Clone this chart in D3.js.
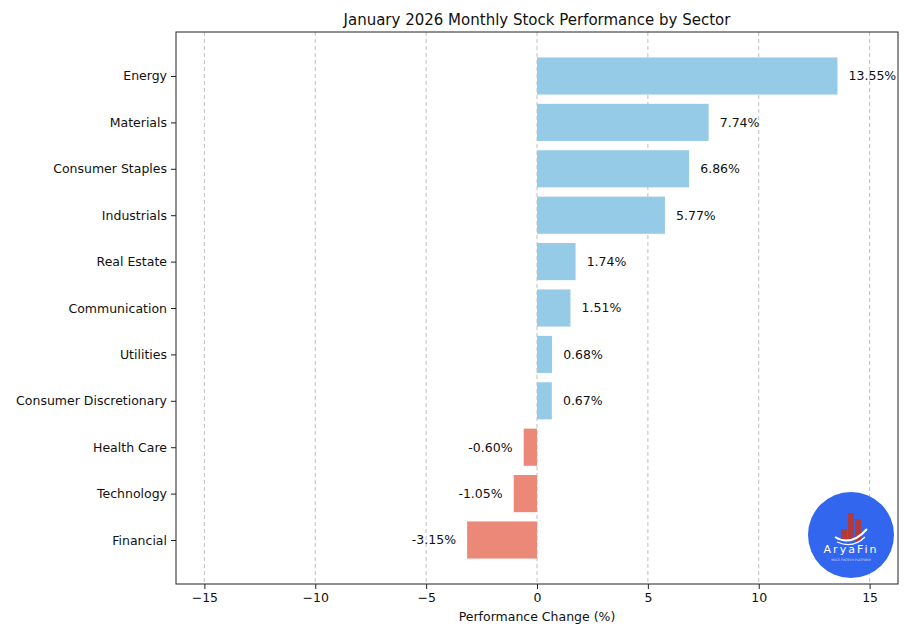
<!DOCTYPE html>
<html>
<head>
<meta charset="utf-8">
<script src="https://cdn.jsdelivr.net/npm/d3@7/dist/d3.min.js"></script>
<style>
body { margin: 0; background: #fff; }
svg { font-family: "DejaVu Sans", sans-serif; }
.grid line { stroke: #b0b0b0; stroke-dasharray: 4,3; stroke-width: 0.8; }
</style>
</head>
<body>
<svg></svg>
<script>
var sectors = ["Energy", "Materials", "Consumer Staples", "Industrials", "Real Estate",
  "Communication", "Utilities", "Consumer Discretionary", "Health Care", "Technology", "Financial"];
var changes = [13.55, 7.74, 6.86, 5.77, 1.74, 1.51, 0.68, 0.67, -0.60, -1.05, -3.15];
var xTicks = [-15, -10, -5, 0, 5, 10, 15];

var width = 918, height = 632;
var plotL = 176, plotR = 898, plotT = 32, plotB = 584;

var svg = d3.select("svg").attr("width", width).attr("height", height);

var x = d3.scaleLinear().domain([-16.28, 16.28]).range([plotL, plotR]);
var y = d3.scaleLinear().domain([-0.948, sectors.length - 1 + 0.948]).range([plotT, plotB]);
var barH = 0.8 * (y(1) - y(0));

// grid
svg.append("g").attr("class", "grid")
  .selectAll("line").data(xTicks).enter().append("line")
  .attr("x1", d => x(d)).attr("x2", d => x(d))
  .attr("y1", plotT).attr("y2", plotB);

// bars
svg.append("g").selectAll("rect").data(changes).enter().append("rect")
  .attr("x", d => x(Math.min(0, d)))
  .attr("width", d => Math.abs(x(d) - x(0)))
  .attr("y", (d, i) => y(i) - barH / 2)
  .attr("height", barH)
  .attr("fill", d => d >= 0 ? "#96cbe8" : "#eb8878");

// value labels
svg.append("g").selectAll("text").data(changes).enter().append("text")
  .attr("x", d => d >= 0 ? x(d + 0.5) : x(d - 0.5))
  .attr("y", (d, i) => y(i))
  .attr("dy", "0.35em")
  .attr("text-anchor", d => d >= 0 ? "start" : "end")
  .attr("font-size", 12.5)
  .attr("fill", "#111")
  .text(d => d.toFixed(2) + "%");

// x axis
var xAxis = svg.append("g").attr("transform", "translate(0," + plotB + ")")
  .call(d3.axisBottom(x).tickValues(xTicks).tickSize(5).tickPadding(4)
    .tickFormat(d => d < 0 ? "\u2212" + Math.abs(d) : d));
xAxis.select(".domain").remove();
xAxis.selectAll("text").attr("font-size", 12.5).attr("fill", "#111").style("font-family", "DejaVu Sans");
xAxis.selectAll("line").attr("stroke", "#222");

// y axis
var yAxis = svg.append("g").attr("transform", "translate(" + plotL + ",0)")
  .call(d3.axisLeft(y).tickValues(d3.range(sectors.length)).tickSize(5).tickPadding(4)
    .tickFormat(i => sectors[i]));
yAxis.select(".domain").remove();
yAxis.selectAll("text").attr("font-size", 12.5).attr("fill", "#111").style("font-family", "DejaVu Sans");
yAxis.selectAll("line").attr("stroke", "#222");

// frame
svg.append("rect").attr("x", plotL).attr("y", plotT)
  .attr("width", plotR - plotL).attr("height", plotB - plotT)
  .attr("fill", "none").attr("stroke", "#222").attr("stroke-width", 1);

// title and label
svg.append("text").attr("x", (plotL + plotR) / 2).attr("y", plotT - 7)
  .attr("text-anchor", "middle").attr("font-size", 15).attr("fill", "#111")
  .text("January 2026 Monthly Stock Performance by Sector");
svg.append("text").attr("x", (plotL + plotR) / 2).attr("y", 621)
  .attr("text-anchor", "middle").attr("font-size", 12.5).attr("fill", "#111")
  .text("Performance Change (%)");

// logo
var logo = svg.append("g").attr("transform", "translate(851,535)");
logo.append("circle").attr("r", 43).attr("fill", "#3366ee");
[[-10, -6, 12], [-3, -22, 28], [4, -16, 22]].forEach(function (b) {
  logo.append("rect").attr("x", b[0]).attr("y", b[1]).attr("width", 6).attr("height", b[2]).attr("fill", "#b23a3a");
});
logo.append("path").attr("d", "M-16,2 Q0,12 16,-6").attr("fill", "none").attr("stroke", "#fff").attr("stroke-width", 2);
logo.append("path").attr("d", "M-14,7 Q2,14 14,2").attr("fill", "none").attr("stroke", "#fff").attr("stroke-width", 1.2);
logo.append("text").attr("y", 18).attr("text-anchor", "middle").attr("font-size", 11)
  .attr("letter-spacing", 2).attr("fill", "#fff").text("AryaFin");
logo.append("text").attr("y", 26).attr("text-anchor", "middle").attr("font-size", 3)
  .attr("fill", "#dde").text("MULTI FINTECH PLATFORM");
</script>
</body>
</html>
